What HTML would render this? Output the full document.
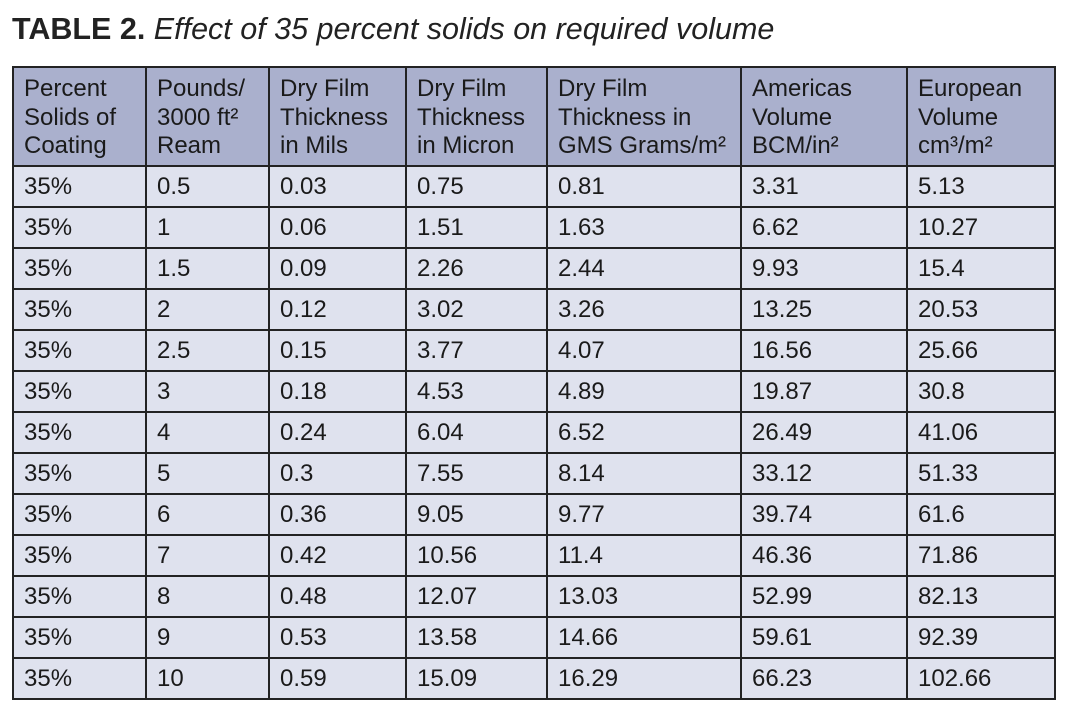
<!DOCTYPE html>
<html><head><meta charset="utf-8"><style>
body{margin:0;width:1066px;height:712px;background:#fff;font-family:"Liberation Sans",Arial,sans-serif;overflow:hidden;position:relative}
.t{position:absolute;left:12px;top:12px;font-size:30.5px;color:#222;white-space:nowrap}
.t b{font-weight:bold}
.t i{font-style:italic}
table{position:absolute;left:12px;top:66px;border-collapse:collapse;table-layout:fixed;width:1042px}
td{border:2.5px solid #232323;font-size:24px;color:#1a1a1a;padding:0 0 0 10px;background:#dfe2ee;height:39px;line-height:26px;vertical-align:middle;white-space:nowrap;overflow:hidden}
tr.h td{background:#aab0cd;height:90px;line-height:28.5px;vertical-align:top;padding-top:7px}
</style></head><body>
<div class="t"><b>TABLE 2.</b> <i>Effect of 35 percent solids on required volume</i></div>
<table>
<colgroup><col style="width:133px"><col style="width:123px"><col style="width:137px"><col style="width:141px"><col style="width:194px"><col style="width:166px"><col style="width:148px"></colgroup>
<tr class="h"><td>Percent<br>Solids of<br>Coating</td><td>Pounds/<br>3000 ft²<br>Ream</td><td>Dry Film<br>Thickness<br>in Mils</td><td>Dry Film<br>Thickness<br>in Micron</td><td>Dry Film<br>Thickness in<br>GMS Grams/m²</td><td>Americas<br>Volume<br>BCM/in²</td><td>European<br>Volume<br>cm³/m²</td></tr>
<tr><td>35%</td><td>0.5</td><td>0.03</td><td>0.75</td><td>0.81</td><td>3.31</td><td>5.13</td></tr>
<tr><td>35%</td><td>1</td><td>0.06</td><td>1.51</td><td>1.63</td><td>6.62</td><td>10.27</td></tr>
<tr><td>35%</td><td>1.5</td><td>0.09</td><td>2.26</td><td>2.44</td><td>9.93</td><td>15.4</td></tr>
<tr><td>35%</td><td>2</td><td>0.12</td><td>3.02</td><td>3.26</td><td>13.25</td><td>20.53</td></tr>
<tr><td>35%</td><td>2.5</td><td>0.15</td><td>3.77</td><td>4.07</td><td>16.56</td><td>25.66</td></tr>
<tr><td>35%</td><td>3</td><td>0.18</td><td>4.53</td><td>4.89</td><td>19.87</td><td>30.8</td></tr>
<tr><td>35%</td><td>4</td><td>0.24</td><td>6.04</td><td>6.52</td><td>26.49</td><td>41.06</td></tr>
<tr><td>35%</td><td>5</td><td>0.3</td><td>7.55</td><td>8.14</td><td>33.12</td><td>51.33</td></tr>
<tr><td>35%</td><td>6</td><td>0.36</td><td>9.05</td><td>9.77</td><td>39.74</td><td>61.6</td></tr>
<tr><td>35%</td><td>7</td><td>0.42</td><td>10.56</td><td>11.4</td><td>46.36</td><td>71.86</td></tr>
<tr><td>35%</td><td>8</td><td>0.48</td><td>12.07</td><td>13.03</td><td>52.99</td><td>82.13</td></tr>
<tr><td>35%</td><td>9</td><td>0.53</td><td>13.58</td><td>14.66</td><td>59.61</td><td>92.39</td></tr>
<tr><td>35%</td><td>10</td><td>0.59</td><td>15.09</td><td>16.29</td><td>66.23</td><td>102.66</td></tr>
</table>
</body></html>
